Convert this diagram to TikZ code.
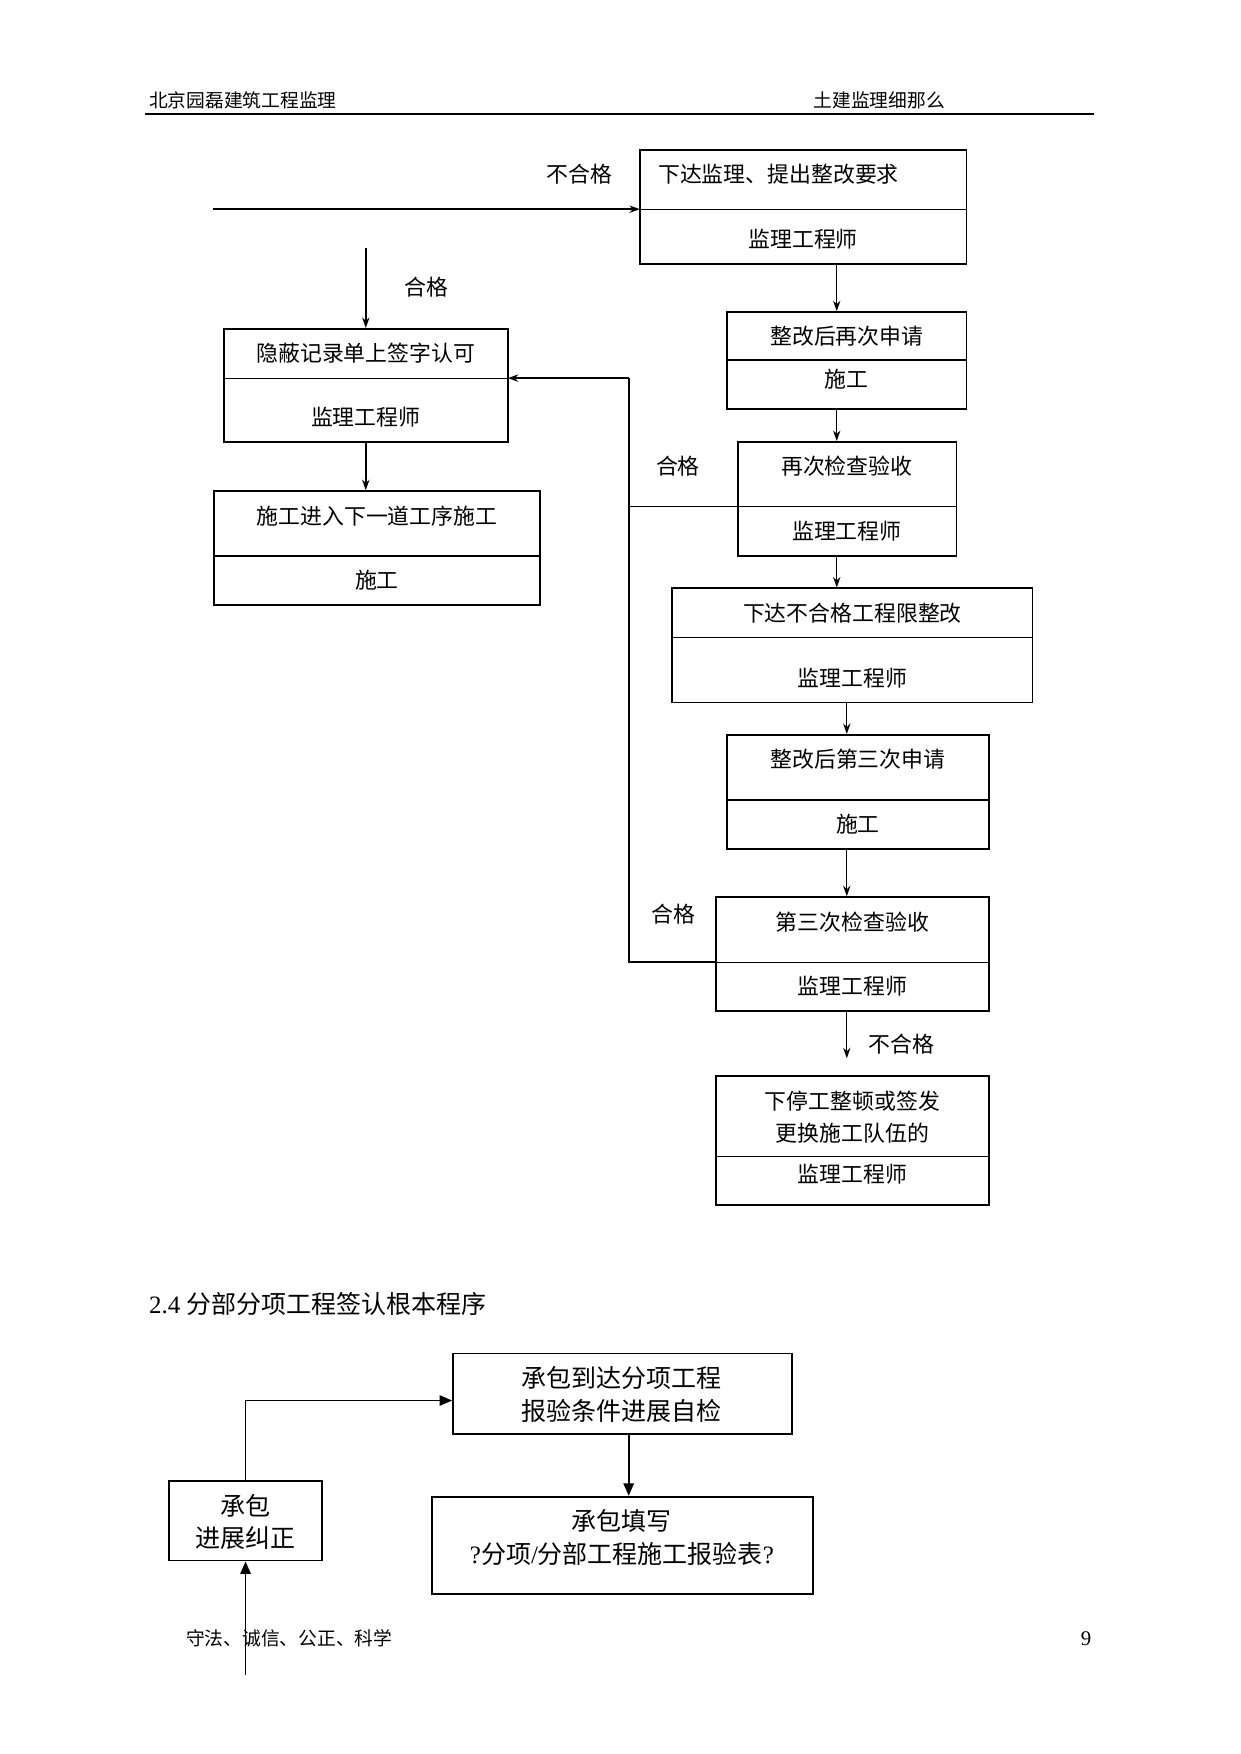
\documentclass[tikz,border=0pt]{standalone}
\usepackage{fontspec}
\setmainfont{Liberation Serif}
\newfontfamily\cjk{Noto Sans CJK SC}
\usetikzlibrary{arrows.meta,fit}
\newcommand{\lat}[1]{{\rmfamily #1}}
\begin{document}
\begin{tikzpicture}[x=0.537pt,y=-0.537pt,
  box/.style={draw, line width=0.9pt, inner sep=0pt},
  div/.style={line width=0.5pt},
  txt/.style={font=\cjk\fontsize{10.5}{12}\selectfont, inner sep=0pt},
  hdr/.style={font=\cjk\fontsize{9}{11}\selectfont, inner sep=0pt},
  big/.style={font=\cjk\fontsize{12}{15.6}\selectfont, inner sep=0pt, align=center},
  arr/.style={-{Stealth[length=5pt,width=3.5pt]}, line width=0.6pt},
  tarr/.style={-{Stealth[length=5pt,width=3.5pt]}, line width=1.2pt},
  farr/.style={-{Triangle[length=6pt,width=5pt]}, line width=0.8pt}]

\useasboundingbox[fill=white] (0,0) rectangle (1109,1568);

% header
\node[hdr, anchor=west] (h1) at (133,90) {北京园磊建筑工程监理};
\node[hdr, anchor=west] (h2) at (727,90) {土建监理细那么};
\coordinate (rl) at (130,102);
\coordinate (rr) at (978,102);
\draw[line width=1.3pt] (rl) -- (rr);

% x positions of connectors
\coordinate (xa) at (748,0);
\coordinate (xb) at (757,0);
\coordinate (loopx) at (562,0);

% Box A
\node[box, fit={(572,134) (864,236)}] (A) {};
\coordinate (Adl) at (572,187); \coordinate (Adr) at (864,187);
\draw[div] (Adl) -- (Adr);
\node[txt, anchor=west] (At) at (588,156) {下达监理、提出整改要求};
\node[txt] (Ab) at (718,214) {监理工程师};
\node[txt] (lbl1) at (518,156) {不合格};
\coordinate (inA) at (190,187);
\draw[tarr] (inA) -- (Adl);

% Box B
\node[box, fit={(200,294) (454,395)}] (B) {};
\coordinate (Bdl) at (200,338); \coordinate (Bdr) at (454,338);
\draw[div] (Bdl) -- (Bdr);
\node[txt] (Bt) at (327,316) {隐蔽记录单上签字认可};
\node[txt] (Bb) at (327,373) {监理工程师};
\coordinate (inB) at (327,222);
\draw[tarr] (inB) -- (B.north -| inB);
\node[txt] (lbl2) at (381,257) {合格};

% Box C
\node[box, fit={(191,439) (483,541)}] (C) {};
\coordinate (Cdl) at (191,497); \coordinate (Cdr) at (483,497);
\draw[line width=0.9pt] (Cdl) -- (Cdr);
\node[txt] (Ct) at (337,461) {施工进入下一道工序施工};
\node[txt] (Cb) at (337,519) {施工};
\draw[tarr] (B.south) -- (C.north -| B.south);

% Box D
\node[box, fit={(650,279) (864,366)}] (D) {};
\coordinate (Ddl) at (650,322); \coordinate (Ddr) at (864,322);
\draw[line width=0.9pt] (Ddl) -- (Ddr);
\node[txt] (Dt) at (757,301) {整改后再次申请};
\node[txt] (Db) at (757,339) {施工};
\draw[arr] (A.south -| xa) -- (D.north -| xa);

% Box E
\node[box, fit={(660,395) (855,497)}] (E) {};
\coordinate (Edl) at (660,453); \coordinate (Edr) at (855,453);
\draw[div] (Edl) -- (Edr);
\node[txt] (Et) at (757,417) {再次检查验收};
\node[txt] (Eb) at (757,475) {监理工程师};
\node[txt] (lbl3) at (606,417) {合格};
\draw[arr] (D.south -| xa) -- (E.north -| xa);

% Box F
\node[box, fit={(601,526) (923,628)}] (F) {};
\coordinate (Fdl) at (601,570); \coordinate (Fdr) at (923,570);
\draw[div] (Fdl) -- (Fdr);
\node[txt] (Ft) at (762,548) {下达不合格工程限整改};
\node[txt] (Fb) at (762,606) {监理工程师};
\draw[arr] (E.south -| xa) -- (F.north -| xa);

% Box G
\node[box, fit={(650,657) (884,759)}] (G) {};
\coordinate (Gdl) at (650,715); \coordinate (Gdr) at (884,715);
\draw[line width=0.9pt] (Gdl) -- (Gdr);
\node[txt] (Gt) at (767,679) {整改后第三次申请};
\node[txt] (Gb) at (767,737) {施工};
\draw[arr] (F.south -| xb) -- (G.north -| xb);

% Box H
\node[box, fit={(640,802) (884,904)}] (H) {};
\coordinate (Hdl) at (640,860); \coordinate (Hdr) at (884,860);
\draw[div] (Hdl) -- (Hdr);
\node[txt] (Ht) at (762,824) {第三次检查验收};
\node[txt] (Hb) at (762,882) {监理工程师};
\node[txt] (lbl4) at (602,817) {合格};
\draw[arr] (G.south -| xb) -- (H.north -| xb);
\coordinate (outH) at (757,946);
\draw[arr] (H.south -| xb) -- (outH);
\node[txt] (lbl5) at (806,933) {不合格};

% Box I
\node[box, fit={(640,962) (884,1077)}] (I) {};
\coordinate (Idl) at (640,1034); \coordinate (Idr) at (884,1034);
\draw[div] (Idl) -- (Idr);
\node[txt] (It1) at (762,984) {下停工整顿或签发};
\node[txt] (It2) at (762,1013) {更换施工队伍的};
\node[txt] (Ib) at (762,1050) {监理工程师};

% loop back to B
\draw[line width=0.8pt] (Hdl) -- (Hdl -| loopx) -- (Bdr -| loopx);
\draw[line width=0.7pt] (Edl) -- (Edl -| loopx);
\draw[tarr] (Bdr -| loopx) -- (Bdr);

% section 2.4
\node[font=\fontsize{12}{14}\selectfont, inner sep=0pt, anchor=west] (sec) at (133,1166) {2.4 {\cjk 分部分项工程签认根本程序}};

\node[box, fit={(405,1210) (708,1282)}] (J) {};
\node[big] (Jt) at (556,1246.5) {承包到达分项工程\\报验条件进展自检};

\node[box, fit={(151,1324) (288,1395)}] (K) {};
\node[big] (Kt) at (219.5,1360.5) {承包\\进展纠正};

\node[box, fit={(386,1338) (727,1425)}] (L) {};
\node[big] (Lt) at (556,1374.5) {承包填写\\\lat{?}分项\lat{/}分部工程施工报验表\lat{?}};

\coordinate (jy) at (0,1252);
\coordinate (jx) at (562,0);
\draw[farr] (K.north) |- (J.west |- jy);
\draw[farr] (J.south -| jx) -- (L.north -| jx);
\coordinate (kin) at (219.5,1497);
\draw[farr] (kin) -- (K.south);

% footer
\node[hdr, anchor=west] (f1) at (166,1465) {守法、诚信、公正、科学};
\node[font=\fontsize{10}{12}\selectfont, inner sep=0pt] (f2) at (971,1465) {9};

\end{tikzpicture}
\end{document}
